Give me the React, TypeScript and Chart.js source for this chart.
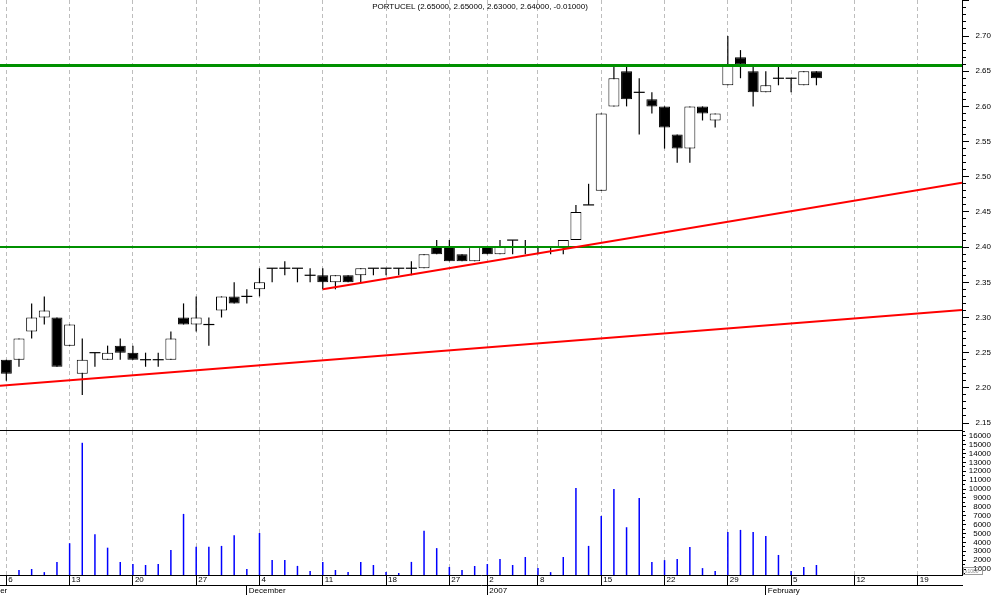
import React, { useEffect, useRef } from 'react';
import { Chart, registerables } from 'chart.js';

Chart.register(...registerables);

// ---- trading days (one slot each) ----
const dates = [
  '2006-11-06', '2006-11-07', '2006-11-08', '2006-11-09', '2006-11-10',
  '2006-11-13', '2006-11-14', '2006-11-15', '2006-11-16', '2006-11-17',
  '2006-11-20', '2006-11-21', '2006-11-22', '2006-11-23', '2006-11-24',
  '2006-11-27', '2006-11-28', '2006-11-29', '2006-11-30', '2006-12-01',
  '2006-12-04', '2006-12-05', '2006-12-06', '2006-12-07', '2006-12-08',
  '2006-12-11', '2006-12-12', '2006-12-13', '2006-12-14', '2006-12-15',
  '2006-12-18', '2006-12-19', '2006-12-20', '2006-12-21', '2006-12-22',
  '2006-12-27', '2006-12-28', '2006-12-29',
  '2007-01-02', '2007-01-03', '2007-01-04', '2007-01-05',
  '2007-01-08', '2007-01-09', '2007-01-10', '2007-01-11', '2007-01-12',
  '2007-01-15', '2007-01-16', '2007-01-17', '2007-01-18', '2007-01-19',
  '2007-01-22', '2007-01-23', '2007-01-24', '2007-01-25', '2007-01-26',
  '2007-01-29', '2007-01-30', '2007-01-31', '2007-02-01', '2007-02-02',
  '2007-02-05', '2007-02-06', '2007-02-07',
];

const opens = [
  2.24, 2.24, 2.28, 2.30, 2.30, 2.26, 2.22, 2.25, 2.24, 2.26,
  2.25, 2.24, 2.24, 2.24, 2.30, 2.29, 2.29, 2.31, 2.33, 2.33,
  2.34, 2.37, 2.37, 2.37, 2.36, 2.36, 2.35, 2.36, 2.36, 2.37,
  2.37, 2.37, 2.37, 2.37, 2.40, 2.40, 2.39, 2.38, 2.40, 2.39,
  2.41, 2.40, 2.40, 2.40, 2.40, 2.41, 2.46, 2.48, 2.60, 2.65,
  2.62, 2.61, 2.60, 2.56, 2.54, 2.60, 2.58, 2.63, 2.67, 2.65,
  2.62, 2.64, 2.64, 2.63, 2.65,
];
const highs = [
  2.24, 2.27, 2.32, 2.33, 2.30, 2.29, 2.27, 2.25, 2.26, 2.27,
  2.26, 2.25, 2.25, 2.28, 2.32, 2.33, 2.30, 2.33, 2.35, 2.34,
  2.37, 2.37, 2.38, 2.37, 2.37, 2.37, 2.36, 2.36, 2.37, 2.37,
  2.37, 2.37, 2.38, 2.39, 2.41, 2.41, 2.39, 2.40, 2.40, 2.41,
  2.41, 2.41, 2.40, 2.40, 2.41, 2.46, 2.49, 2.59, 2.66, 2.66,
  2.64, 2.62, 2.60, 2.56, 2.60, 2.60, 2.59, 2.70, 2.68, 2.66,
  2.65, 2.66, 2.64, 2.65, 2.65,
];
const lows = [
  2.21, 2.23, 2.27, 2.29, 2.23, 2.26, 2.19, 2.23, 2.24, 2.24,
  2.24, 2.23, 2.23, 2.24, 2.29, 2.28, 2.26, 2.30, 2.32, 2.32,
  2.33, 2.35, 2.36, 2.35, 2.35, 2.34, 2.34, 2.35, 2.35, 2.36,
  2.36, 2.36, 2.36, 2.37, 2.39, 2.38, 2.38, 2.38, 2.39, 2.39,
  2.39, 2.39, 2.39, 2.39, 2.39, 2.41, 2.46, 2.48, 2.60, 2.60,
  2.56, 2.59, 2.54, 2.52, 2.52, 2.58, 2.57, 2.63, 2.64, 2.60,
  2.62, 2.63, 2.62, 2.63, 2.63,
];
const closes = [
  2.22, 2.27, 2.30, 2.31, 2.23, 2.29, 2.24, 2.25, 2.25, 2.25,
  2.24, 2.24, 2.24, 2.27, 2.29, 2.30, 2.29, 2.33, 2.32, 2.33,
  2.35, 2.37, 2.37, 2.37, 2.36, 2.35, 2.36, 2.35, 2.37, 2.37,
  2.37, 2.37, 2.37, 2.39, 2.39, 2.38, 2.38, 2.40, 2.39, 2.40,
  2.41, 2.40, 2.40, 2.40, 2.41, 2.45, 2.46, 2.59, 2.64, 2.61,
  2.62, 2.60, 2.57, 2.54, 2.60, 2.59, 2.59, 2.66, 2.66, 2.62,
  2.63, 2.64, 2.64, 2.65, 2.64,
];
const volumes = [
  0, 900, 1000, 650, 1800, 3900, 15200, 4900, 3400, 1800,
  1550, 1450, 1550, 3150, 7200, 3500, 3500, 3600, 4800, 1000,
  5050, 2000, 2000, 1350, 780, 1800, 890, 660, 1800, 1450,
  660, 550, 1800, 5300, 3350, 1230, 890, 1340, 1560, 2130,
  1450, 2350, 1100, 650, 2350, 10100, 3600, 6950, 10000, 5700,
  9000, 1800, 2000, 2130, 3480, 1100, 780, 5150, 5400, 5150,
  4700, 2580, 780, 1230, 1450,
];

// ---- axis ticks / labels ----
const weekTickSlots = [0, 5, 10, 15, 20, 25, 30, 35, 38, 42, 47, 52, 57, 62, 67, 72];
const weekTickLabels = ['6', '13', '20', '27', '4', '11', '18', '27', '2', '8', '15', '22', '29', '5', '12', '19'];
const monthTickSlots = [-3, 19, 38, 60];
const monthTickLabels = ['November', 'December', '2007', 'February'];
const priceLabels = ['2.15', '2.20', '2.25', '2.30', '2.35', '2.40', '2.45', '2.50', '2.55', '2.60', '2.65', '2.70'];
const volumeLabels = ['1000', '2000', '3000', '4000', '5000', '6000', '7000', '8000', '9000', '10000', '11000', '12000', '13000', '14000', '15000', '16000'];

// ---- drawn lines (slot, price) ----
const resistanceX = [-0.5, 75.5];
const resistanceY = [2.658, 2.658];
const supportX = [-0.5, 75.5];
const supportY = [2.40, 2.40];
const upperTrendX = [25, 75.5];
const upperTrendY = [2.34, 2.4915];
const lowerTrendX = [-0.5, 75.5];
const lowerTrendY = [2.203, 2.3106];

const X_MIN = -0.5;
const X_MAX = 75.5;
const FONT = { family: "'Liberation Sans', Arial, Helvetica, sans-serif", size: 8 };
const GRID_GRAY = '#bdbdbd';
const GREEN = '#009000';
const RED = '#ff0000';

const pts = (xs: number[], ys: number[]) => xs.map((x, k) => ({ x, y: ys[k] }));

export default function App() {
  const priceRef = useRef<HTMLCanvasElement | null>(null);
  const volRef = useRef<HTMLCanvasElement | null>(null);

  useEffect(() => {
    const slots = dates.map((_, i) => i);
    const wicks = slots.map((i) => ({ x: i, y: [lows[i], highs[i]] }));
    const bodies = slots.map((i) =>
      opens[i] === closes[i]
        ? { x: i, y: null }
        : { x: i, y: [Math.min(opens[i], closes[i]), Math.max(opens[i], closes[i])] }
    );
    const bodyFill = slots.map((i) => (closes[i] < opens[i] ? '#000000' : '#ffffff'));
    const dojis = slots.filter((i) => opens[i] === closes[i]).map((i) => ({ x: i, y: opens[i] }));
    const vols = slots.map((i) => ({ x: i, y: volumes[i] }));

    const priceTicks: number[] = [];
    for (let c = 215; c <= 275; c++) priceTicks.push(c / 100);
    const volTicks: number[] = [];
    for (let v = 500; v <= 16500; v += 500) volTicks.push(v);

    const weekTicks = (s: any) => {
      s.ticks = weekTickSlots.map((v) => ({ value: v }));
    };
    const monthTicks = (s: any) => {
      s.ticks = monthTickSlots.map((v) => ({ value: v }));
    };

    const price = new Chart(priceRef.current as HTMLCanvasElement, {
      type: 'bar',
      data: {
        datasets: [
          { type: 'bar', label: 'wick', data: wicks as any, backgroundColor: '#000', borderWidth: 0, barThickness: 1.2, grouped: false, inflateAmount: 0, order: 6 } as any,
          { type: 'bar', label: 'body', data: bodies as any, backgroundColor: bodyFill, borderColor: '#000', borderWidth: 1, borderSkipped: false, barThickness: 11, grouped: false, inflateAmount: 0, order: 5 } as any,
          { type: 'line', label: 'doji', data: dojis, showLine: false, pointStyle: 'line', pointRadius: 5.5, pointBorderWidth: 1.2, pointBorderColor: '#000', pointBackgroundColor: '#000', order: 4 } as any,
          { type: 'line', label: 'support', data: pts(supportX, supportY), borderColor: GREEN, borderWidth: 2, pointRadius: 0, order: 3 } as any,
          { type: 'line', label: 'resistance', data: pts(resistanceX, resistanceY), borderColor: GREEN, borderWidth: 3, pointRadius: 0, order: 2 } as any,
          { type: 'line', label: 'upperTrend', data: pts(upperTrendX, upperTrendY), borderColor: RED, borderWidth: 2, pointRadius: 0, order: 1 } as any,
          { type: 'line', label: 'lowerTrend', data: pts(lowerTrendX, lowerTrendY), borderColor: RED, borderWidth: 2, pointRadius: 0, order: 0 } as any,
        ],
      },
      options: {
        responsive: false,
        animation: false,
        events: [],
        layout: { padding: 0, autoPadding: false },
        plugins: { legend: { display: false }, tooltip: { enabled: false } },
        scales: {
          x: {
            type: 'linear',
            min: X_MIN,
            max: X_MAX,
            offset: false,
            afterBuildTicks: weekTicks,
            ticks: { display: false, autoSkip: false },
            grid: { offset: false, color: GRID_GRAY, lineWidth: 1, drawTicks: false },
            border: { color: '#000', width: 1, dash: [4, 3] },
            afterFit: (s: any) => {
              s.height = 1;
              s.paddingLeft = 0;
              s.paddingRight = 0;
            },
          } as any,
          y: {
            type: 'linear',
            position: 'right',
            min: 2.1401,
            max: 2.7512,
            afterBuildTicks: (s: any) => {
              s.ticks = priceTicks.map((v) => ({ value: v }));
            },
            ticks: {
              autoSkip: false,
              font: FONT,
              color: '#000',
              crossAlign: 'far',
              padding: 6,
              callback: (v: any) => {
                const lbl = Number(v).toFixed(2);
                return priceLabels.includes(lbl) ? lbl : '';
              },
            },
            grid: {
              drawOnChartArea: false,
              drawTicks: true,
              tickLength: 7,
              tickColor: '#000',
              tickBorderDash: (ctx: any) =>
                Math.round(Number(ctx.tick?.value) * 100) % 5 === 0 ? [] : [3, 20],
            },
            border: { color: '#000', width: 1 },
            afterFit: (s: any) => {
              s.width = 29;
              s.paddingTop = 0;
              s.paddingBottom = 0;
            },
          } as any,
        },
      },
    });

    const x1000Plugin = {
      id: 'x1000',
      afterDraw(chart: any) {
        const ctx = chart.ctx;
        const area = chart.chartArea;
        ctx.save();
        ctx.strokeStyle = '#9a9a9a';
        ctx.lineWidth = 1;
        ctx.strokeRect(area.right + 1.5, area.bottom - 7.5, 19, 7);
        ctx.fillStyle = '#8a8a8a';
        ctx.font = "5px 'Liberation Sans', Arial, sans-serif";
        ctx.textBaseline = 'middle';
        ctx.fillText('x1000', area.right + 3, area.bottom - 3.5);
        ctx.restore();
      },
    };

    const vol = new Chart(volRef.current as HTMLCanvasElement, {
      type: 'bar',
      data: {
        datasets: [
          { type: 'bar', label: 'volume', data: vols as any, backgroundColor: '#0000ff', borderWidth: 0, barThickness: 1.5, grouped: false, inflateAmount: 0 } as any,
        ],
      },
      plugins: [x1000Plugin],
      options: {
        responsive: false,
        animation: false,
        events: [],
        layout: { padding: 0, autoPadding: false },
        plugins: { legend: { display: false }, tooltip: { enabled: false } },
        scales: {
          x: {
            type: 'linear',
            position: 'bottom',
            weight: 0,
            min: X_MIN,
            max: X_MAX,
            offset: false,
            afterBuildTicks: weekTicks,
            ticks: {
              autoSkip: false,
              maxRotation: 0,
              minRotation: 0,
              align: 'start',
              labelOffset: 2,
              padding: -10,
              font: FONT,
              color: '#000',
              callback: (_v: any, i: number) => weekTickLabels[i],
            },
            grid: { offset: false, color: GRID_GRAY, lineWidth: 1, drawTicks: true, tickLength: 10, tickColor: '#000', tickBorderDash: [] },
            border: { color: '#000', width: 1, dash: [4, 3] },
            afterFit: (s: any) => {
              s.height = 10;
              s.paddingLeft = 0;
              s.paddingRight = 0;
            },
          } as any,
          x2: {
            type: 'linear',
            position: 'bottom',
            weight: 1,
            min: X_MIN,
            max: X_MAX,
            offset: false,
            afterBuildTicks: monthTicks,
            ticks: {
              autoSkip: false,
              maxRotation: 0,
              minRotation: 0,
              align: 'start',
              labelOffset: 2,
              padding: -9,
              font: FONT,
              color: '#000',
              callback: (_v: any, i: number) => monthTickLabels[i],
            },
            grid: { offset: false, drawOnChartArea: false, drawTicks: true, tickLength: 10, tickColor: '#000', color: '#000', tickBorderDash: [] },
            border: { color: '#000', width: 1 },
            afterFit: (s: any) => {
              s.height = 10;
              s.paddingLeft = 0;
              s.paddingRight = 0;
            },
          } as any,
          y: {
            type: 'linear',
            position: 'right',
            min: 326,
            max: 16526,
            afterBuildTicks: (s: any) => {
              s.ticks = volTicks.map((v) => ({ value: v }));
            },
            ticks: {
              autoSkip: false,
              font: FONT,
              color: '#000',
              crossAlign: 'far',
              padding: 3,
              callback: (v: any) => {
                const lbl = String(Math.round(Number(v)));
                return volumeLabels.includes(lbl) ? lbl : '';
              },
            },
            grid: {
              drawOnChartArea: false,
              drawTicks: true,
              tickLength: 4,
              tickColor: '#000',
              tickBorderDash: (ctx: any) => (Math.round(Number(ctx.tick?.value)) % 1000 === 0 ? [] : [2, 20]),
            },
            border: { color: '#000', width: 1 },
            afterFit: (s: any) => {
              s.width = 29;
              s.paddingTop = 0;
              s.paddingBottom = 0;
            },
          } as any,
        },
      },
    });

    return () => {
      price.destroy();
      vol.destroy();
    };
  }, []);

  const last = dates.length - 1;
  const change = closes[last] - closes[last - 1];
  const title = `PORTUCEL (${opens[last].toFixed(5)}, ${highs[last].toFixed(5)}, ${lows[last].toFixed(5)}, ${closes[last].toFixed(5)}, ${change.toFixed(5)})`;

  return (
    <div style={{ position: 'fixed', left: 0, top: 0, width: 994, height: 595, background: '#ffffff', overflow: 'hidden' }}>
      <canvas ref={priceRef} width={991} height={431} style={{ position: 'absolute', left: 0, top: 0, display: 'block' }} />
      <canvas ref={volRef} width={991} height={164} style={{ position: 'absolute', left: 0, top: 431, display: 'block' }} />
      <div
        style={{
          position: 'absolute',
          left: 0,
          top: 2,
          width: 960,
          textAlign: 'center',
          font: "8px 'Liberation Sans', Arial, sans-serif",
          lineHeight: '10px',
          color: '#000',
          whiteSpace: 'pre',
        }}
      >
        {title}
      </div>
    </div>
  );
}
